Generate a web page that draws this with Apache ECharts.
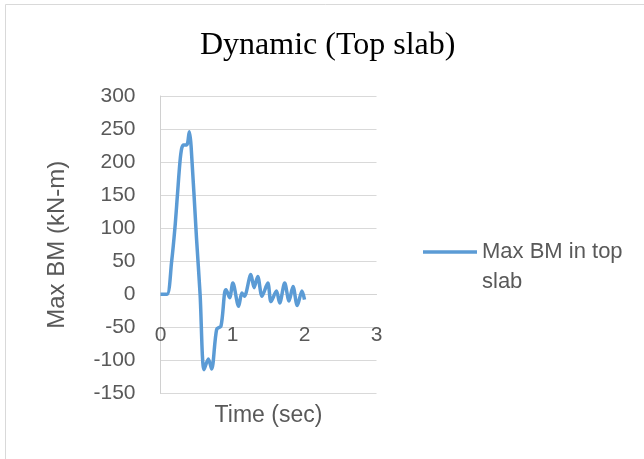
<!DOCTYPE html>
<html>
<head>
<meta charset="utf-8">
<script src="https://cdn.jsdelivr.net/npm/echarts@6/dist/echarts.min.js"></script>
<style>
  html, body { margin: 0; padding: 0; background: #ffffff; }
  #chart { width: 644px; height: 459px; }
</style>
</head>
<body>
<div id="chart"></div>
<script>
var titleText = 'Dynamic (Top slab)';
var seriesName = 'Max BM in top slab';
var xAxisName = 'Time (sec)';
var yAxisName = 'Max BM (kN-m)';

var timeSec = [0, 0.09, 0.155, 0.20, 0.235, 0.27, 0.295, 0.32, 0.365, 0.40, 0.425, 0.50, 0.55, 0.605, 0.665, 0.71, 0.78, 0.84, 0.89, 0.91, 0.96, 1.005, 1.085, 1.13, 1.165, 1.255, 1.30, 1.35, 1.41, 1.49, 1.535, 1.61, 1.655, 1.725, 1.785, 1.84, 1.90, 1.965, 2.0];
var maxBM   = [0, 0, 50, 100, 150, 200, 221, 226, 226, 246, 224, 85, 0, -114, -98, -113, -53, -48, 2, 7, -5, 17, -18, 2, -3, 30, 10, 27, -3, 17, -11, 5, -13, 17, -10, 12, -17, 5, -8];

var xTicks = { min: 0, max: 3, interval: 1 };
var yTicks = { min: -150, max: 300, interval: 50 };

var points = timeSec.map(function (t, i) { return [t, maxBM[i]]; });

var chart = echarts.init(document.getElementById('chart'), null, { renderer: 'canvas' });
var sans = 'Liberation Sans';
chart.setOption({
  animation: false,
  backgroundColor: '#ffffff',
  graphic: [{
    type: 'rect',
    shape: { x: 5.5, y: 4.5, width: 700, height: 500 },
    style: { fill: 'none', stroke: '#d9d9d9', lineWidth: 1 },
    silent: true
  }],
  title: {
    text: titleText,
    left: 195,
    top: 25,
    textStyle: { fontFamily: 'Liberation Serif', fontSize: 32, fontWeight: 'normal', color: '#000000' }
  },
  legend: {
    left: 423,
    top: 207,
    padding: 0,
    itemWidth: 54,
    itemHeight: 3.5,
    icon: 'rect',
    itemStyle: { color: '#5B9BD5' },
    data: [seriesName],
    formatter: function () { return ' \nMax BM in top\nslab'; },
    textStyle: { fontFamily: sans, fontSize: 22, color: '#595959', lineHeight: 30 }
  },
  grid: { left: 160.5, right: 267.5, top: 96, bottom: 65.5, outerBoundsMode: 'none', containLabel: false },
  xAxis: {
    type: 'value',
    min: xTicks.min, max: xTicks.max, interval: xTicks.interval,
    name: xAxisName,
    nameLocation: 'middle',
    nameGap: 11,
    nameTextStyle: { fontFamily: sans, fontSize: 23, color: '#595959', verticalAlign: 'top' },
    axisLine: { show: true, onZero: true, lineStyle: { color: '#d4d4d4', width: 1 } },
    axisTick: { show: false },
    axisLabel: { margin: -69, fontFamily: sans, fontSize: 21, color: '#595959' },
    splitLine: { show: false }
  },
  yAxis: {
    type: 'value',
    min: yTicks.min, max: yTicks.max, interval: yTicks.interval,
    name: yAxisName,
    nameLocation: 'middle',
    nameGap: 91,
    nameTextStyle: { fontFamily: sans, fontSize: 24, color: '#595959' },
    axisLine: { show: true, onZero: false, lineStyle: { color: '#d0d0d0', width: 1 } },
    axisTick: { show: false },
    axisLabel: { margin: 25, fontFamily: sans, fontSize: 21, color: '#595959' },
    splitLine: { show: true, lineStyle: { color: '#d9d9d9', width: 1 } }
  },
  series: [{
    name: seriesName,
    type: 'line',
    data: points,
    smooth: 0.3,
    showSymbol: false,
    symbol: 'none',
    lineStyle: { color: '#5B9BD5', width: 3.5 },
    itemStyle: { color: '#5B9BD5' }
  }]
});
</script>
</body>
</html>
